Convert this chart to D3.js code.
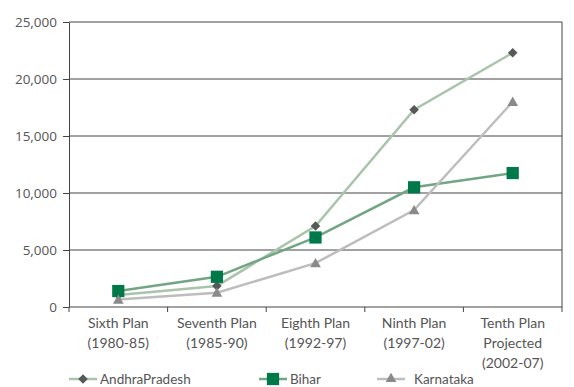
<!DOCTYPE html>
<html>
<head>
<meta charset="utf-8">
<script src="https://cdn.jsdelivr.net/npm/d3@7"></script>
<style>
  html, body { margin: 0; padding: 0; background: #fff; }
  svg { display: block; font-family: Lato, "Open Sans", sans-serif; }
</style>
</head>
<body>
<svg id="chart" width="574" height="387"></svg>
<script>
// Plan periods (multi-line category labels)
const categories = [
  ["Sixth Plan", "(1980-85)"],
  ["Seventh Plan", "(1985-90)"],
  ["Eighth Plan", "(1992-97)"],
  ["Ninth Plan", "(1997-02)"],
  ["Tenth Plan", "Projected", "(2002-07)"]
];
const seriesNames = ["AndhraPradesh", "Bihar", "Karnataka"];
const andhraPradesh = [1050, 1850, 7100, 17300, 22300];
const bihar = [1400, 2650, 6100, 10500, 11750];
const karnataka = [650, 1250, 3850, 8500, 18000];
const yTicks = [0, 5000, 10000, 15000, 20000, 25000];

const series = [
  { name: seriesNames[0], values: andhraPradesh, line: "#a9c4ab", marker: "#555a58", shape: "diamond" },
  { name: seriesNames[1], values: bihar, line: "#73a584", marker: "#00794a", shape: "square" },
  { name: seriesNames[2], values: karnataka, line: "#bdbdbf", marker: "#8a8a8c", shape: "triangle" }
];

const svg = d3.select("#chart");
const m = { left: 69, right: 12, top: 22, bottom: 80 };
const W = 574, H = 387;
const innerW = W - m.left - m.right, innerH = H - m.top - m.bottom;

const x = d3.scaleBand().domain(d3.range(categories.length)).range([m.left, m.left + innerW]);
const y = d3.scaleLinear().domain([0, 25000]).range([m.top + innerH, m.top]);

const textColor = "#555";
const fmt = d3.format(",");

// horizontal gridlines
svg.append("g").selectAll("line").data(yTicks.slice(1)).join("line")
  .attr("x1", m.left).attr("x2", m.left + innerW)
  .attr("y1", d => y(d)).attr("y2", d => y(d))
  .attr("stroke", "#444").attr("stroke-width", 1);

// right border
svg.append("line")
  .attr("x1", m.left + innerW).attr("x2", m.left + innerW)
  .attr("y1", m.top).attr("y2", m.top + innerH)
  .attr("stroke", "#444");

// y axis
const yAxis = svg.append("g").attr("transform", `translate(${m.left},0)`)
  .call(d3.axisLeft(y).tickValues(yTicks).tickFormat(fmt).tickSize(6).tickSizeOuter(0));
yAxis.select(".domain").attr("stroke", "#444");
yAxis.selectAll(".tick line").attr("stroke", "#444");
yAxis.selectAll(".tick text").attr("fill", textColor).attr("font-size", 13.5)
  .attr("font-family", "'Open Sans', Lato, sans-serif").attr("x", -12);

// x axis with ticks at band boundaries
const xAxisG = svg.append("g").attr("transform", `translate(0,${m.top + innerH})`);
xAxisG.append("line").attr("x1", m.left).attr("x2", m.left + innerW)
  .attr("stroke", "#444");
const edges = d3.range(categories.length + 1).map(i => i < categories.length ? x(i) : x(categories.length - 1) + x.bandwidth());
xAxisG.selectAll("line.tk").data(edges).join("line").attr("class", "tk")
  .attr("x1", d => d).attr("x2", d => d).attr("y1", 0).attr("y2", 5)
  .attr("stroke", "#444");
xAxisG.selectAll("text.cat").data(categories).join("text").attr("class", "cat")
  .attr("text-anchor", "middle").attr("fill", textColor).attr("font-size", 14)
  .attr("transform", (d, i) => `translate(${x(i) + x.bandwidth() / 2},0)`)
  .selectAll("tspan").data(d => d).join("tspan")
  .attr("x", 0).attr("y", (d, j) => 21 + j * 20).text(d => d);

// marker drawing
const sym = {
  diamond: d3.symbol().type(d3.symbolSquare).size(46),
  square: d3.symbol().type(d3.symbolSquare).size(150),
  triangle: d3.symbol().type(d3.symbolTriangle).size(50)
};
const rot = shape => shape === "diamond" ? " rotate(45)" : "";

const line = d3.line().x((d, i) => x(i) + x.bandwidth() / 2).y(d => y(d));

series.forEach(s => {
  svg.append("path").datum(s.values)
    .attr("d", line).attr("fill", "none")
    .attr("stroke", s.line).attr("stroke-width", 2.5);
});
series.forEach(s => {
  svg.append("g").selectAll("path").data(s.values).join("path")
    .attr("d", sym[s.shape])
    .attr("transform", (d, i) => `translate(${x(i) + x.bandwidth() / 2},${y(d) + (s.shape === "triangle" ? 1 : 0)})${rot(s.shape)}`)
    .attr("fill", s.marker);
});

// legend
const legendX = [69, 259, 377];
const legendY = 379;
const lg = svg.append("g");
series.forEach((s, i) => {
  const g = lg.append("g").attr("transform", `translate(${legendX[i]},${legendY})`);
  g.append("line").attr("x1", 0).attr("x2", 28).attr("y1", 0).attr("y2", 0)
    .attr("stroke", s.line).attr("stroke-width", 2.5);
  g.append("path").attr("d", sym[s.shape]).attr("transform", `translate(14,0)${rot(s.shape)}`).attr("fill", s.marker);
  g.append("text").attr("x", i === 2 ? 37 : 31).attr("y", 5).attr("fill", textColor)
    .attr("font-size", 13.5).text(s.name);
});
</script>
</body>
</html>
